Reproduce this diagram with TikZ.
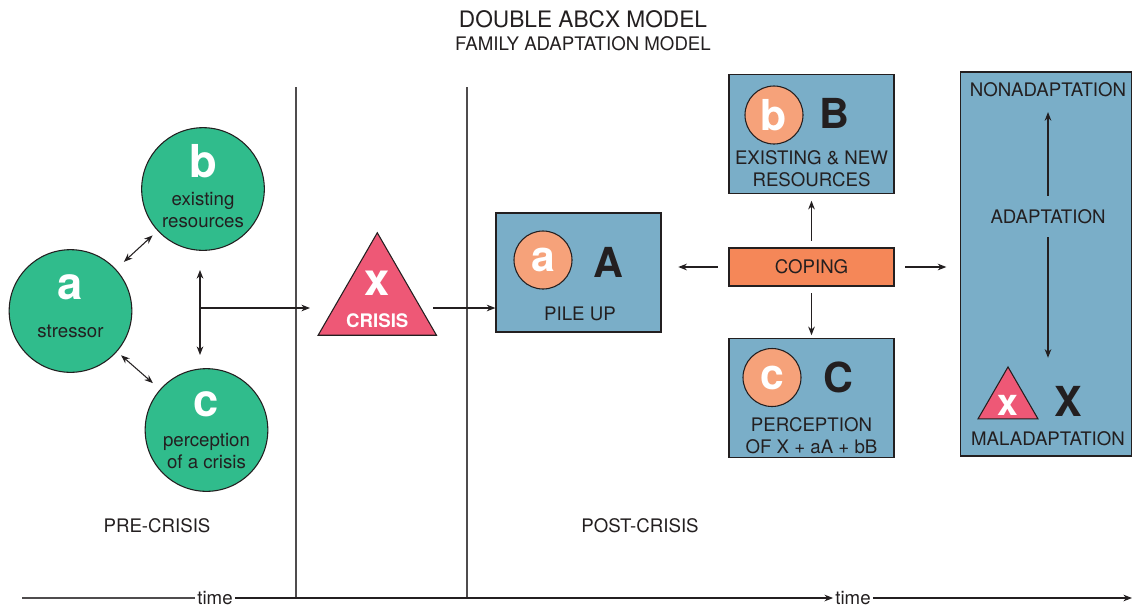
\documentclass[tikz,border=0pt]{standalone}
\usepackage{tikz}
\usepackage{xcolor}
\usepackage{fontspec}
\setmainfont{TeX Gyre Heros}
\usetikzlibrary{shapes.geometric,arrows.meta,positioning}
\definecolor{abcxGreen}{RGB}{48, 188, 140}
\definecolor{abcxBlue}{RGB}{122, 174, 200}
\definecolor{abcxPeach}{RGB}{246, 162, 122}
\definecolor{abcxOrange}{RGB}{245, 135, 88}
\definecolor{abcxRed}{RGB}{238, 88, 118}
\definecolor{abcxInk}{RGB}{35, 31, 32}

\begin{document}
\begin{tikzpicture}[x=0.75pt, y=-0.75pt, font=\fontsize{14}{16.5}\selectfont, text=abcxInk]
    \tikzstyle{greencirc} = [circle, draw=abcxInk, line width=0.8pt, fill=abcxGreen, minimum size=92pt, inner sep=0pt]
    \tikzstyle{peachcirc} = [circle, draw=abcxInk, line width=0.8pt, fill=abcxPeach, minimum size=43.5pt, inner sep=0pt, text=white, font=\fontsize{32}{32}\selectfont\bfseries]
    \tikzstyle{box} = [rectangle, draw=abcxInk, line width=0.9pt, fill=abcxBlue, minimum width=123.75pt, minimum height=89.25pt]
    \tikzstyle{tri} = [regular polygon, regular polygon sides=3, draw=abcxInk, line width=0.8pt, fill=abcxRed, inner sep=0pt]
    \tikzstyle{bigletter} = [font=\fontsize{31}{31}\selectfont\bfseries, inner sep=0pt]
    \tikzstyle{whiteletter} = [text=white, font=\fontsize{34}{34}\selectfont\bfseries, inner sep=0pt]
    \tikzstyle{lines} = [align=center, inner sep=0pt]
    \tikzstyle{arrow} = [-{Stealth[length=6.5pt, width=5pt]}, line width=0.8pt, draw=abcxInk]
    \tikzstyle{darrow} = [{Stealth[length=6.5pt, width=5pt]}-{Stealth[length=6.5pt, width=5pt]}, line width=0.8pt, draw=abcxInk]
    \tikzstyle{divider} = [line width=1pt, draw=abcxInk!80]

    \useasboundingbox (0,0) rectangle (1132,608);

    % titles
    \node (title) at (583,19) {\fontsize{17}{17}\selectfont DOUBLE ABCX MODEL};
    \node (subtitle) at (583,44) {FAMILY ADAPTATION MODEL};

    % dividers and time axis
    \coordinate (d1top) at (296,87);
    \coordinate (d1bot) at (296,598);
    \coordinate (d2top) at (467,87);
    \coordinate (d2bot) at (467,598);
    \draw[divider] (d1top) -- (d1bot);
    \draw[divider] (d2top) -- (d2bot);

    \coordinate (tstart) at (22,598);
    \coordinate (tend) at (1132,598);
    \node[inner sep=1.5pt] (time1) at (215,598) {time};
    \node[inner sep=1.5pt] (time2) at (853,598) {time};
    \draw[divider] (tstart) -- (time1.west);
    \draw[divider, arrow] (time1.east) -- (time2.west);
    \draw[divider, arrow] (time2.east) -- (tend);

    \node (pre) at (157,526) {PRE-CRISIS};
    \node (post) at (640,526) {POST-CRISIS};

    % pre-crisis circles
    \node[greencirc] (a) at (70.5,311) {};
    \node[whiteletter] (aletter) at (70.5,287) {a};
    \node[lines] (atext) at (70.5,331) {stressor};
    \node[greencirc] (b) at (203,189) {};
    \node[whiteletter] (bletter) at (203,161) {b};
    \node[lines] (btext) at (203,210) {existing\\resources};
    \node[greencirc] (c) at (206.5,430) {};
    \node[whiteletter] (cletter) at (206.5,404) {c};
    \node[lines] (ctext) at (206.5,451) {perception\\of a crisis};

    \draw[darrow, shorten <=8pt, shorten >=5pt] (a) -- (b);
    \draw[darrow, shorten <=4pt, shorten >=7pt] (a) -- (c);

    \coordinate (join) at (200,308);
    \coordinate (jtop) at (200,270);
    \coordinate (jbot) at (200,355);
    \draw[darrow] (jtop) -- (jbot);

    % crisis
    \node[tri, minimum size=102.5pt] (x) at (377.3,301.1) {};
    \node[whiteletter] (xletter) at (377.3,283) {x};
    \node[text=white, font=\fontsize{14}{14}\selectfont\bfseries] (xtext) at (377.3,321) {CRISIS};
    \draw[arrow] (join) -- (join -| 310,0);

    % post-crisis boxes
    \node[box] (pile) at (578.5,272.5) {};
    \node[peachcirc] (pa) at (543,260) {a};
    \node[bigletter] (A) at (608,262) {A};
    \node (piletext) at (580,313.5) {PILE UP};
    \coordinate (xout) at (433,308);
    \draw[arrow] (xout) -- (xout -| pile.west);

    \node[box] (res) at (811.5,134) {};
    \node[peachcirc] (pb) at (774,115) {b};
    \node[bigletter] (B) at (834,113) {B};
    \node[lines] (restext) at (811.5,168.5) {EXISTING \& NEW\\RESOURCES};

    \node[box] (perc) at (811.5,398) {};
    \node[peachcirc] (pc) at (772,377.5) {c};
    \node[bigletter] (C) at (838,377) {C};
    \node[lines] (perctext) at (811.5,436) {PERCEPTION\\OF X + aA + bB};

    \node[rectangle, draw=abcxInk, line width=0.9pt, fill=abcxOrange, minimum width=123.75pt, minimum height=28.5pt] (coping) at (811.5,267) {COPING};

    \draw[arrow, shorten <=8pt, shorten >=12.5pt] (coping.west) -- (pile.east |- coping.west);
    \draw[arrow, shorten <=5pt, shorten >=5pt] (coping) -- (res);
    \draw[arrow, shorten <=5pt, shorten >=2pt] (coping) -- (perc);

    % outcome column
    \node[rectangle, draw=abcxInk, line width=0.9pt, fill=abcxBlue, minimum width=128.25pt, minimum height=288pt] (outcome) at (1045.8,264) {};
    \draw[arrow, shorten <=8pt, shorten >=10pt] (coping.east) -- (outcome.west |- coping.east);
    \node[inner sep=0pt] (nonad) at (1048,90) {NONADAPTATION};
    \node[inner sep=0pt] (adapt) at (1048,216.5) {ADAPTATION};
    \node[inner sep=0pt] (malad) at (1048,438.5) {MALADAPTATION};
    \node[tri, minimum size=52pt] (xsmall) at (1008,401.6) {};
    \node[text=white, font=\fontsize{28}{28}\selectfont\bfseries, inner sep=0pt] (xsletter) at (1008,405) {x};
    \node[bigletter] (X) at (1068,401) {X};
    \draw[arrow, shorten <=10pt, shorten >=11pt] (adapt) -- (nonad);
    \draw[arrow, shorten <=10pt, shorten >=55pt] (adapt) -- (malad);
\end{tikzpicture}
\end{document}
